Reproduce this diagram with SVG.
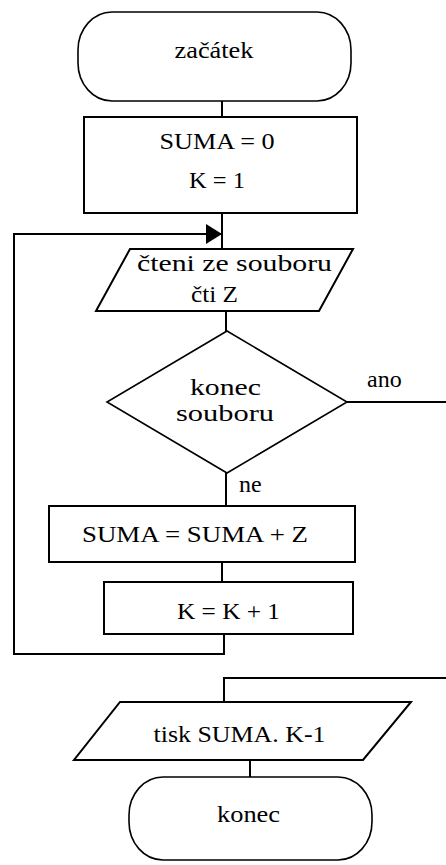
<svg xmlns="http://www.w3.org/2000/svg" width="446" height="865" viewBox="0 0 446 865">
  <style>
    .shape { fill: #ffffff; stroke: #000000; stroke-width: 2; }
    .term { fill: #ffffff; stroke: #000000; stroke-width: 1.6; }
    .wire { fill: none; stroke: #000000; stroke-width: 2; }
    text { font-family: "Liberation Serif", "Times New Roman", serif; font-size: 24px; fill: #000000; }
    .c { text-anchor: middle; }
  </style>
  <defs>
    <marker id="arrow" viewBox="0 0 16 20" markerWidth="16" markerHeight="20" refX="16" refY="10" orient="auto" markerUnits="userSpaceOnUse">
      <path d="M0,0 L16,10 L0,20 Z" fill="#000000"/>
    </marker>
  </defs>

  <!-- connectors -->
  <g id="connectors">
    <line class="wire" x1="222" y1="101" x2="222" y2="117"/>
    <line class="wire" x1="222" y1="213" x2="222" y2="249"/>
    <polyline class="wire" points="224,634 224,654 14,654 14,234 222,234" marker-end="url(#arrow)"/>
    <line class="wire" x1="226" y1="311" x2="226" y2="331"/>
    <line class="wire" x1="226" y1="473" x2="226" y2="506"/>
    <line class="wire" x1="222" y1="562" x2="222" y2="582"/>
    <line class="wire" x1="347" y1="402" x2="446" y2="402"/>
    <polyline class="wire" points="446,678 224,678 224,702"/>
    <line class="wire" x1="250" y1="760" x2="250" y2="777"/>
    <text x="367" y="387">ano</text>
    <text x="239" y="492">ne</text>
  </g>

  <g id="start">
    <rect class="term" x="78" y="12" width="273" height="89" rx="34" ry="38"/>
    <text class="c" x="214" y="58" textLength="79" lengthAdjust="spacingAndGlyphs">začátek</text>
  </g>

  <g id="init">
    <rect class="shape" x="84" y="117" width="273" height="96"/>
    <text class="c" x="217" y="149" textLength="115" lengthAdjust="spacingAndGlyphs">SUMA = 0</text>
    <text class="c" x="217" y="188" textLength="56" lengthAdjust="spacingAndGlyphs">K = 1</text>
  </g>

  <g id="read">
    <polygon class="shape" points="130,249 353,249 319,311 96,311"/>
    <text class="c" x="234.5" y="271" textLength="195" lengthAdjust="spacingAndGlyphs">čteni ze souboru</text>
    <text class="c" x="214.5" y="302" textLength="47" lengthAdjust="spacingAndGlyphs">čti Z</text>
  </g>

  <g id="decision">
    <polygon class="term" points="227,331 347,402 227,473 107,402"/>
    <text class="c" x="225.5" y="395" textLength="71" lengthAdjust="spacingAndGlyphs">konec</text>
    <text class="c" x="225" y="421" textLength="98" lengthAdjust="spacingAndGlyphs">souboru</text>
  </g>

  <g id="sum">
    <rect class="shape" x="49" y="506" width="306" height="56"/>
    <text class="c" x="195" y="542" textLength="226" lengthAdjust="spacingAndGlyphs">SUMA = SUMA + Z</text>
  </g>

  <g id="increment">
    <rect class="shape" x="104" y="582" width="249" height="52"/>
    <text class="c" x="228.5" y="619" textLength="103" lengthAdjust="spacingAndGlyphs">K = K + 1</text>
  </g>

  <g id="print">
    <polygon class="shape" points="120,702 411,702 363,760 74,760"/>
    <text class="c" x="239.5" y="742" textLength="172" lengthAdjust="spacingAndGlyphs">tisk SUMA. K-1</text>
  </g>

  <g id="end">
    <rect class="term" x="129" y="777" width="243" height="83" rx="34" ry="38"/>
    <text class="c" x="248.5" y="822" textLength="63" lengthAdjust="spacingAndGlyphs">konec</text>
  </g>
</svg>
